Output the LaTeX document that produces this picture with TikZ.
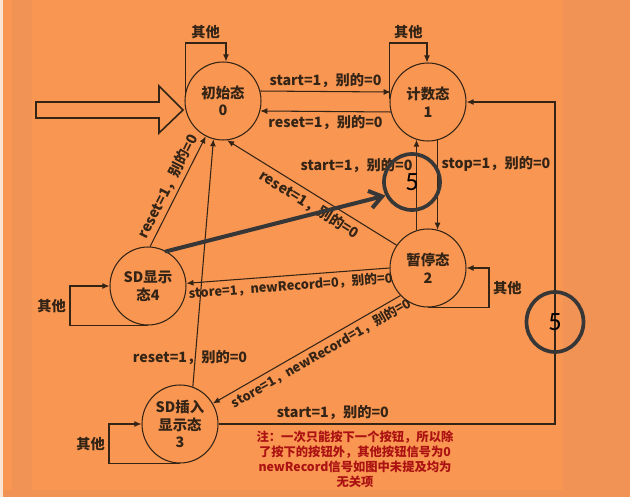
\documentclass[tikz,border=0pt]{standalone}
\usepackage{fontspec}
\setmainfont{Noto Sans CJK SC}
\newfontfamily\digitfont{Carlito}
\usetikzlibrary{shapes.geometric,arrows.meta}
\definecolor{bgorange}{RGB}{249,150,82}
\definecolor{bgdark}{RGB}{241,147,84}
\definecolor{bglight}{RGB}{252,228,210}
\definecolor{ink}{RGB}{52,36,22}
\definecolor{notered}{RGB}{172,18,18}
\definecolor{markgray}{RGB}{55,55,55}

\begin{document}
\begin{tikzpicture}[x=0.02cm, y=-0.02cm,
    state/.style={draw=ink, line width=0.6pt, ellipse, minimum width=1.52cm, minimum height=1.56cm,
      inner sep=0pt, align=center, text=ink, font=\bfseries\fontsize{8.2}{10}\selectfont},
    lbl/.style={text=ink, inner sep=2pt, font=\bfseries\fontsize{8.1}{9}\selectfont},
    longlbl/.style={lbl, font=\bfseries\fontsize{7.3}{9}\selectfont},
    edge/.style={draw=ink, line width=0.6pt, -{Latex[length=4pt,width=3.4pt]}},
    ringmark/.style={draw=markgray, line width=2.1pt, ellipse, inner sep=0pt, text=black,
      font=\digitfont\fontsize{15}{15}\selectfont},
    hiarrow/.style={draw=markgray, line width=2.3pt, line cap=round,
      -{Straight Barb[length=7pt,width=10pt,line width=2.3pt]}}]
    % Background
    \useasboundingbox (0,0) rectangle (630,497);
    \fill[bgdark] (0,0) rectangle (630,497);
    \fill[bgorange] (3,0) rectangle (563,490);
    \fill[bgdark] (12,0) rectangle (32,490);
    \fill[bglight] (0,0) rectangle (3,497);

    % Nodes
    \node[state] (s0) at (223,101) {初始态\\0};
    \node[state] (s1) at (428,102) {计数态\\1};
    \node[state] (s2) at (428,268) {暂停态\\2};
    \node[state] (s4) at (148,286) {SD显示\\态4};
    \node[state] (s3) at (180,424) {SD插入\\显示态\\3};

    % Entry arrow
    \draw[ink, line width=0.9pt, fill=bgorange] (36,102) -- (159,102) -- (159,86) -- (183,110)
      -- (159,133) -- (159,118) -- (36,118) -- cycle;

    % Edges
    \draw[edge] (s0.15) -- node[lbl, above] (t01) {start=1，别的=0} (s1.165);
    \draw[edge] (s1.-165) -- node[lbl, below] (t10) {reset=1，别的=0} (s0.-15);
    \draw[edge] (s1.-76) -- node[lbl, right, pos=0.26] (t12) {stop=1，别的=0} (s2.76);
    \draw[edge] (s2.107) -- node[lbl, left, pos=0.72] (t21) {start=1，别的=0} (s1.-107);
    \draw[edge] (s2.144) -- node[lbl, sloped, below, pos=0.48] (t20) {reset=1，别的=0} (s0.-84);
    \draw[edge] (s2.180) -- node[longlbl, sloped, below, pos=0.49] (t24) {store=1，newRecord=0，别的=0} (s4.4);
    \draw[edge] (s2.-135) -- node[longlbl, sloped, below, pos=0.45] (t23) {store=1，newRecord=1，别的=0} (s3.32);
    \draw[edge] (s4.87) -- node[lbl, sloped, above] (t40) {reset=1，别的=0} (s0.-116);
    \draw[edge] (s3.71) -- node[lbl, pos=0.12, xshift=-3pt] (t30) {reset=1，别的=0} (s0.-104);
    \coordinate (c31) at (555,424);
    \draw[edge] (s3.east) -- node[lbl, above, pos=0.34] (t31) {start=1，别的=0} (c31) |- (s1.east);

    % Self loops
    \coordinate (l0) at (226,43);
    \coordinate (l1) at (427,43);
    \coordinate (l2) at (489,268);
    \coordinate (l4) at (70,286);
    \coordinate (l3) at (109,424);
    \draw[edge] (s0.168) |- node[lbl, above, pos=0.75] (o0) {其他} (l0) -- (l0 |- s0.north);
    \draw[edge] (s1.175) |- node[lbl, above, pos=0.75] (o1) {其他} (l1) -- (l1 |- s1.north);
    \draw[edge] (s2.south) -| node[lbl, right, pos=0.75] (o2) {其他} (l2) -- (s2.east);
    \draw[edge] (s4.south) -| node[lbl, left, pos=0.75] (o4) {其他} (l4) -- (s4.west);
    \draw[edge] (s3.south) -| node[lbl, left, pos=0.75] (o3) {其他} (l3) -- (s3.west);

    % Note
    \node[text=notered, align=center, font=\bfseries\fontsize{7}{8.5}\selectfont] (note) at (355,459)
      {注：一次只能按下一个按钮，所以除\\了按下的按钮外，其他按钮信号为0\\newRecord信号如图中未提及均为\\无关项};

    % Marks
    \node[ringmark, minimum width=1.12cm, minimum height=1.12cm] (m1) at (412,182) {5};
    \node[ringmark, minimum width=1.14cm, minimum height=1.2cm] (m2) at (555,322) {5};
    \draw[hiarrow] (s4.62) -- (m1.207);
\end{tikzpicture}
\end{document}
